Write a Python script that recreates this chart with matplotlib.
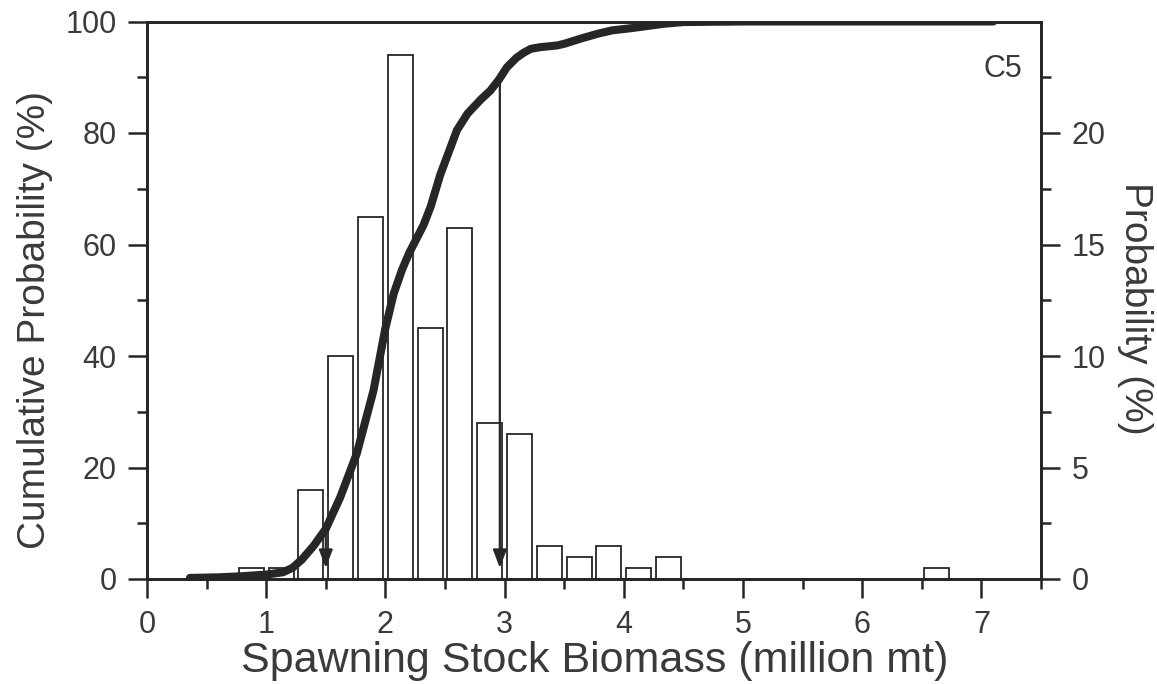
import numpy as np
import matplotlib
matplotlib.use('Agg')
import matplotlib.pyplot as plt
from matplotlib.ticker import MultipleLocator

plt.rcParams['font.family'] = ['Liberation Sans', 'DejaVu Sans']

# histogram of spawning stock biomass (bin centres, million mt) and probability (%)
binCentres = [0.875, 1.125, 1.375, 1.625, 1.875, 2.125, 2.375, 2.625, 2.875, 3.125,
              3.375, 3.625, 3.875, 4.125, 4.375, 6.625]
binProb = [0.5, 0.5, 4.0, 10.0, 16.25, 23.5, 11.25, 15.75, 7.0, 6.5,
           1.5, 1.0, 1.5, 0.5, 1.0, 0.5]

# smoothed cumulative probability curve (%)
cumX = [0.36, 0.6, 0.8, 1.0, 1.14, 1.22, 1.3, 1.4, 1.5, 1.62, 1.76, 1.9, 2.0, 2.07,
        2.14, 2.2, 2.26, 2.32, 2.38, 2.46, 2.6, 2.69, 2.8, 2.88, 2.95, 3.02, 3.1, 3.16,
        3.22, 3.3, 3.44, 3.5, 3.65, 3.78, 3.9, 4.06, 4.2, 4.34, 4.5, 5.0, 7.1]
cumY = [0.2, 0.3, 0.5, 0.8, 1.2, 2.0, 3.5, 6.0, 9.0, 14.6, 22.5, 33.8, 45.0, 51.2,
        55.5, 58.5, 61.0, 63.5, 66.8, 72.5, 80.5, 83.5, 86.0, 87.6, 89.5, 91.8, 93.5, 94.4,
        95.1, 95.4, 95.7, 96.0, 97.0, 97.8, 98.4, 98.8, 99.2, 99.6, 99.9, 100.0, 100.0]

# percentile markers (x, cumulative % where arrow starts)
arrowX = [1.5, 2.96]
arrowTop = [9.0, 89.5]
arrowTip = 2.0

probTicks = [0, 5, 10, 15, 20]

textCol = '#3a3a3a'
lineCol = '#262626'

fig = plt.figure(figsize=(11.57, 6.84), dpi=100)
fig.subplots_adjust(left=147/1157, right=1041/1157, bottom=1-579/684, top=1-21.5/684)
ax = fig.add_subplot(111)
ax2 = ax.twinx()
ax.set_zorder(ax2.get_zorder() + 1)
ax.patch.set_visible(False)

ax2.bar(binCentres, binProb, width=0.21, facecolor='white', edgecolor=lineCol, linewidth=1.3)
ax2.set_ylim(0, 25)
ax2.set_yticks(probTicks)
ax2.set_yticks(np.arange(2.5, 25, 2.5), minor=True)
ax2.set_ylabel('Probability (%)', rotation=270, va='bottom', fontsize=28, color=textCol)
ax2.yaxis.set_label_coords(1.085, 0.485)

ax.plot(cumX, cumY, color=lineCol, linewidth=5.8, solid_capstyle='round', zorder=3)
for x, top in zip(arrowX, arrowTop):
  ax.annotate('', xy=(x, arrowTip), xytext=(x, top),
              arrowprops=dict(arrowstyle='-|>,head_length=1.1,head_width=0.42',
                              mutation_scale=10, color=lineCol, linewidth=1.6,
                              shrinkA=0, shrinkB=0))

ax.text(7.34, 91.5, 'C5', ha='right', va='center', fontsize=22, color=textCol)

ax.set_xlim(0, 7.5)
ax.set_ylim(0, 100)
ax.xaxis.set_major_locator(MultipleLocator(1))
ax.xaxis.set_minor_locator(MultipleLocator(0.5))
ax.yaxis.set_major_locator(MultipleLocator(20))
ax.yaxis.set_minor_locator(MultipleLocator(10))
ax.set_xticks(np.arange(0, 8))

ax.set_xlabel('Spawning Stock Biomass (million mt)', fontsize=31, color=textCol)
ax.xaxis.set_label_coords(0.501, -0.111)
ax.set_ylabel('Cumulative Probability (%)', fontsize=28, color=textCol)
ax.yaxis.set_label_coords(-0.105, 0.465)

for a in (ax, ax2):
  for s in a.spines.values():
    s.set_linewidth(2.0)
    s.set_color(lineCol)
  a.tick_params(which='major', direction='out', length=14, width=1.8, color=lineCol,
                labelsize=22, labelcolor=textCol, pad=8)
  a.tick_params(which='minor', direction='out', length=7.5, width=1.8, color=lineCol)
ax.tick_params(axis='x', pad=8.5)

fig.savefig('out.png', dpi=100)
